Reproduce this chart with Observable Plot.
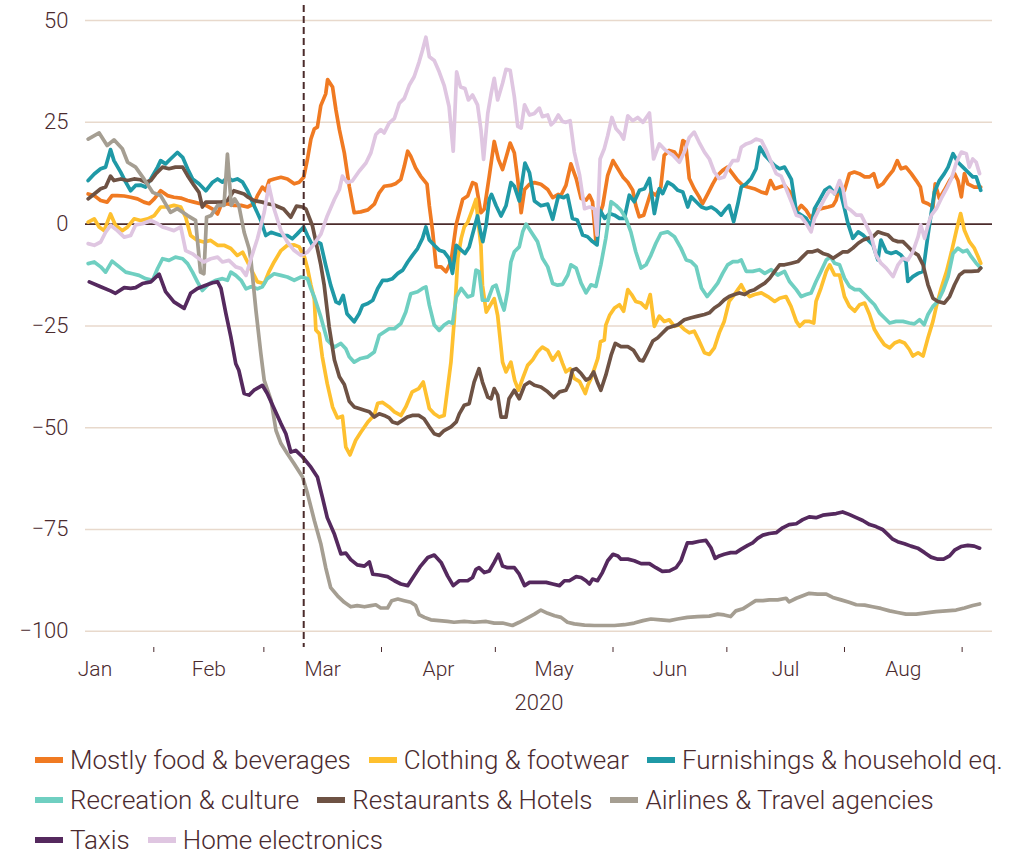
<!DOCTYPE html>
<html>
<head>
<meta charset="utf-8">
<script src="https://cdn.jsdelivr.net/npm/d3@7"></script>
<script src="https://cdn.jsdelivr.net/npm/@observablehq/plot@0.6"></script>
<style>
  html, body { margin: 0; padding: 0; background: #ffffff; }
  #chart { width: 1017px; }
  .legend { padding: 10px 0 0 35px; font-family: Roboto, "Noto Sans", sans-serif; font-weight: 300; font-size: 26px; color: #4b2b2f; }
  .legend .row { display: flex; align-items: center; height: 40px; white-space: nowrap; }
  .legend .item { display: flex; align-items: center; margin-right: 18px; }
  .legend .sw { display: inline-block; width: 28px; height: 6px; margin-right: 7px; }
</style>
</head>
<body>
<div id="chart"></div>
<script>
// ---- categories, colours, tick labels ----
const categories = ["Mostly food & beverages", "Clothing & footwear", "Furnishings & household eq.",
  "Recreation & culture", "Restaurants & Hotels", "Airlines & Travel agencies", "Taxis", "Home electronics"];
const colors = ["#f07a22", "#fec02f", "#1f99a6", "#6fcfc1", "#6e5244", "#a59e92", "#55295e", "#dfc6e1"];
const yTicks = [-100, -75, -50, -25, 0, 25, 50];
const yearLabel = ["2020"];
const lockdownDate = ["2020-03-11T12:00:00Z"];
const monthStarts = ["2020-01-01", "2020-02-01", "2020-03-01", "2020-04-01", "2020-05-01", "2020-06-01", "2020-07-01", "2020-08-01", "2020-09-01"];
const legendRows = [[0, 1, 2], [3, 4, 5], [6, 7]];

// ---- series: [day of 2020 (0 = 1 Jan), index value] ----
const food = [[13.7,7.4],[15.3,7],[17.0,5.8],[18.7,5.4],[20.0,7],[21.4,7],[23.2,6.9],[24.9,6.6],[26.7,6.2],[28.4,5.4],[29.8,5],[31.1,6.2],[32.8,8.2],[34.6,7],[36.3,6.6],[38.1,6.4],[39.9,5.8],[41.6,5.4],[43.3,5],[44.7,4.6],[46.5,3.7],[47.8,2.5],[48.7,4.6],[50.4,5],[52.1,4.6],[54.0,4.6],[55.7,4.2],[57.4,5],[58.3,7],[59.6,9.1],[60.5,8.2],[61.4,10.7],[62.7,11.1],[64.5,11.5],[66.2,11.1],[68.0,9.9],[69.3,10.3],[70.5,11.5],[71.5,16],[72.4,20.9],[73.3,23.4],[74.1,23.8],[75.0,29.1],[76.3,32],[76.8,35.5],[78.1,33.7],[79.0,28],[79.9,23.2],[81.2,17.5],[82.5,9.3],[83.8,2.8],[85.5,3],[87.4,3.5],[89.1,4.9],[90.4,7.7],[91.7,9.3],[93.4,9.5],[94.8,10],[96.1,11],[97.0,14.2],[97.9,17.9],[98.7,16.7],[100.0,13.8],[101.3,11.8],[103.0,9.8],[103.6,4.5],[104.5,-2],[105.4,-10.5],[106.7,-10.5],[108.0,-11.7],[109.3,-9.3],[110.7,0],[112.4,6.1],[113.7,6.9],[115.0,10.2],[115.9,9.8],[117.2,2.8],[118.1,3.7],[119.4,11.8],[120.7,20.3],[121.8,15.9],[122.9,13.4],[123.8,16.3],[124.9,19.9],[126.0,17.5],[126.9,11],[127.8,2.8],[128.7,8.5],[130.0,9.8],[131.3,10.2],[133.0,9.8],[134.8,8.5],[136.1,6.5],[137.6,7.3],[138.3,7.1],[139.6,9.5],[140.9,14.8],[142.3,11.2],[143.6,6.3],[144.9,5.9],[145.8,7.1],[146.6,5.5],[147.5,-4.3],[148.4,2.2],[149.3,4.6],[150.6,12],[152.0,15.6],[153.3,13.6],[154.6,11.6],[155.9,10.3],[157.2,8.3],[158.0,4.6],[158.9,1.8],[160.1,2.2],[161.2,5.5],[162.0,7.9],[163.3,7.1],[164.6,9.1],[165.5,16.9],[166.8,18.1],[168.2,17.7],[169.5,16],[170.4,20.5],[171.1,20.1],[172.1,11.2],[173.4,8.7],[174.7,6.7],[175.6,5],[177.0,7.5],[178.3,9.9],[179.6,12],[180.9,13.2],[182.2,14],[183.5,12.4],[184.9,10.7],[186.2,9.5],[187.5,9.1],[189.2,8.7],[191.0,7.9],[192.4,7.5],[193.5,10.7],[194.6,8.7],[195.9,9.1],[197.2,9.5],[199.0,7.5],[200.3,3],[201.6,4.6],[202.9,3.4],[204.2,1.4],[205.5,3.4],[206.8,3.8],[208.7,4.2],[210.0,4.6],[210.8,5.9],[211.7,9.5],[213.0,8.3],[214.3,12.4],[215.6,12.8],[216.9,12.4],[218.3,11.6],[219.6,11.6],[220.7,12.4],[221.8,9.1],[223.1,9.9],[224.4,11.6],[225.8,13.2],[226.9,15.6],[227.9,13.6],[229.2,14],[230.6,12.4],[231.9,10.7],[233.0,9.1],[233.7,5.5],[235.0,5],[236.3,4.2],[236.9,9.9],[238.0,6.3],[239.3,8.3],[240.7,10.7],[242.0,12.4],[242.9,10.7],[243.8,6.7],[244.6,12.4],[245.5,9.9],[247.2,9.1],[248.9,9.1]];

const clothing = [[13.7,0.5],[15.3,1.3],[16.6,-0.7],[17.9,-1.6],[19.6,2.5],[20.9,-0.3],[22.7,-1.6],[24.1,-0.7],[25.8,1.3],[27.5,0.9],[29.4,1.3],[31.1,2.1],[32.8,4.2],[34.6,4.2],[36.3,4.6],[38.1,4.2],[39.4,1.7],[40.7,-2.8],[42.5,-4],[44.2,-4.4],[46.0,-4],[47.8,-5.2],[49.5,-5.2],[51.3,-6],[53.0,-7.7],[54.4,-6.9],[55.7,-9.3],[57.0,-11.8],[58.3,-14.2],[60.1,-14.6],[61.3,-11.8],[62.7,-9.3],[64.5,-6.5],[66.2,-5.2],[68.0,-5.1],[69.3,-5.6],[70.7,-8.1],[71.5,-10.9],[72.4,-15],[73.3,-18.5],[73.7,-26],[74.6,-26.9],[75.4,-32.6],[76.7,-39.2],[78.1,-44.9],[79.4,-47.6],[80.7,-47.2],[81.6,-54.8],[82.7,-56.7],[84.2,-53.1],[85.5,-51.2],[87.4,-48.6],[89.1,-46.9],[90.0,-44],[91.3,-43.8],[93.0,-44.9],[94.4,-46.1],[96.1,-47],[97.4,-44.9],[99.1,-41.2],[100.8,-40.4],[102.0,-38.8],[103.6,-45.3],[104.9,-46.6],[106.2,-47.4],[107.5,-47],[109.3,-33.9],[110.2,-23.2],[111.1,-8.4],[112.0,-3.5],[112.8,-0.7],[113.7,0.4],[115.0,3.7],[115.9,6.1],[116.4,1.2],[117.2,-5.3],[117.6,-15],[118.6,-21.6],[119.4,-20.3],[120.7,-18.3],[121.6,-22.4],[122.9,-33.9],[123.8,-36.3],[125.1,-33.9],[126.1,-38.4],[127.1,-40.8],[128.2,-37.9],[129.5,-34.7],[130.8,-33.4],[132.1,-31.4],[133.4,-30.2],[134.8,-31],[136.1,-33.4],[137.6,-31.4],[138.7,-34.2],[139.6,-36.3],[140.7,-35.5],[141.8,-37.9],[143.2,-38.7],[144.1,-40.4],[144.7,-41.6],[145.4,-39.5],[146.2,-37.9],[147.1,-35.5],[148.0,-33],[148.7,-28.9],[149.7,-28.5],[150.1,-24.8],[151.1,-22.4],[152.4,-20.6],[153.7,-19.8],[154.8,-21.4],[155.9,-16.1],[156.9,-17.3],[158.0,-19],[159.4,-19.4],[160.7,-20.6],[161.8,-17.3],[162.9,-25.1],[164.2,-22.6],[165.5,-23.9],[166.8,-23.5],[168.2,-25.1],[169.5,-24.7],[170.8,-25.9],[172.1,-26.7],[173.4,-26.3],[174.7,-28.7],[176.1,-31.6],[177.4,-32],[178.7,-30.4],[180.0,-26.7],[181.3,-23.9],[182.6,-19],[184.0,-17.3],[184.9,-16.1],[185.8,-14.9],[186.7,-16.5],[188.0,-17.8],[189.3,-17.3],[191.1,-16.9],[192.8,-17.8],[194.6,-19],[195.9,-18.2],[197.6,-17.8],[198.9,-20.2],[200.3,-23.9],[201.2,-25.1],[202.5,-23.9],[203.8,-23.9],[204.9,-24.3],[205.5,-19],[206.8,-15.7],[208.2,-11.6],[209.1,-10],[210.4,-12.5],[211.7,-12.5],[213.0,-17.8],[214.3,-20.2],[215.7,-21.4],[217.0,-19.8],[218.3,-19.4],[219.6,-22.2],[220.9,-25.9],[222.2,-27.9],[223.5,-29.6],[224.9,-30.4],[226.2,-29.2],[227.5,-28.7],[228.8,-29.2],[230.1,-30.8],[231.0,-32.4],[232.4,-31.6],[233.7,-32.4],[235.0,-27.9],[236.3,-23.9],[237.2,-20.2],[238.5,-15.7],[239.9,-11.6],[241.2,-6.8],[242.5,-1.5],[243.6,2.6],[244.6,-1.5],[245.9,-4.3],[247.2,-5.9],[248.2,-8],[248.9,-9.6]];

const furnishings = [[13.7,10.7],[15.3,12.3],[17.0,13.6],[18.3,14],[19.6,18.3],[20.5,15.6],[22.3,12.7],[23.6,10.3],[24.9,8.2],[26.2,9.5],[27.5,9.6],[28.8,9.1],[30.2,11.1],[32.0,14],[32.8,15.6],[34.1,14.8],[35.4,16],[37.2,17.6],[38.6,16.4],[39.9,13.6],[41.2,11.1],[42.9,9.9],[44.7,8.2],[46.5,10.3],[47.8,11.1],[49.1,10.3],[50.4,11.5],[51.7,10.7],[53.0,11.1],[54.4,10.3],[55.7,8.2],[57.4,4.6],[59.2,0.9],[60.5,-2.8],[61.9,-2],[63.2,-2.4],[64.5,-2.8],[66.2,-2.8],[67.5,-3.6],[68.8,-2.4],[70.5,-0.7],[71.5,-2.8],[72.8,-5.2],[74.1,-4.4],[75.0,-4.8],[76.3,-10.1],[77.6,-15],[79.0,-19.1],[79.9,-19.5],[80.9,-17.5],[81.9,-22],[83.8,-24],[85.1,-22],[86.0,-20],[87.4,-19.5],[88.7,-18.7],[90.0,-15.8],[91.3,-13.8],[92.6,-13.8],[93.9,-13.4],[95.3,-12.1],[96.6,-11.3],[97.9,-9.3],[99.2,-7.6],[100.5,-6],[101.8,-3.5],[102.7,-0.7],[103.6,-3.9],[104.9,-5.2],[106.2,-6.4],[107.5,-6.8],[108.8,-8.4],[109.7,-12.1],[110.7,-5.2],[112.0,-6.4],[113.0,-7.2],[114.1,-5.6],[115.4,-1.1],[116.3,2],[117.1,-2],[117.7,-4.3],[118.6,0],[119.4,6.1],[120.0,7.3],[121.2,4.5],[122.5,2],[123.8,4.5],[125.1,10.2],[126.0,9.3],[127.3,5.7],[128.8,15],[130.0,12.6],[131.3,5.7],[133.0,4.5],[134.8,4.9],[136.1,1.2],[137.6,6.9],[139.0,6.5],[140.0,7.1],[141.3,1.4],[142.6,1],[144.0,-2.7],[145.3,-3.1],[146.6,-4.3],[147.8,-5.1],[148.6,3.4],[149.8,1.4],[151.1,2.6],[152.4,2.2],[153.7,1.4],[155.0,1.4],[156.3,7.1],[157.6,5.5],[159.0,8.3],[160.3,8.7],[161.6,11.2],[162.9,2.6],[164.2,8.7],[165.1,7.5],[166.4,10.3],[167.8,9.5],[169.1,8.3],[170.4,7.9],[171.7,4.2],[172.6,6.7],[173.9,5.5],[175.3,4.2],[176.6,3.8],[177.9,4.2],[179.2,3.4],[180.5,2.2],[181.8,3.8],[182.6,4.6],[183.8,0.6],[184.9,5],[185.8,9.1],[187.1,9.9],[188.4,11.2],[189.7,13.6],[190.7,18.9],[192.0,16.9],[193.3,15.6],[194.6,14.4],[195.9,13.6],[197.2,14],[199.0,11],[200.3,3],[201.6,2.2],[202.9,1.4],[204.2,-0.7],[205.1,3.8],[206.4,5.9],[207.8,8.3],[209.1,9.1],[210.4,7.5],[211.7,8.7],[213.0,3.8],[213.9,0.2],[215.2,-3.5],[216.6,-1.9],[217.9,-2.7],[219.2,-3.9],[220.5,-5.1],[221.8,-8.8],[222.6,-3.9],[224.0,-6.8],[225.3,-7.2],[226.6,-6.8],[227.9,-7.6],[229.2,-9.2],[229.7,-14.1],[231.0,-12.9],[232.4,-12.1],[233.7,-11.6],[235.0,-2.7],[235.9,3],[236.7,7.9],[238.0,10.7],[239.3,12.4],[240.3,14],[241.6,17.3],[242.9,15.2],[244.2,14],[245.5,12.8],[246.8,11.6],[247.7,11.6],[248.9,8.3]];

const recreation = [[13.7,-9.7],[15.3,-9.3],[17.0,-10.5],[18.3,-11.8],[20.0,-9.1],[21.9,-10.5],[23.6,-11.8],[25.4,-12.2],[27.1,-12.6],[28.8,-13.4],[30.7,-13.8],[32.0,-10.9],[33.3,-8.5],[35.0,-8.9],[36.7,-8.1],[38.6,-8.5],[39.9,-9.7],[41.2,-11.8],[42.5,-14.2],[43.8,-16.3],[45.6,-14.6],[47.4,-13.8],[49.1,-13.4],[50.4,-13.8],[51.3,-11.8],[52.6,-12.6],[54.0,-13.8],[55.3,-15.9],[56.6,-15.4],[58.3,-15.9],[59.6,-15.4],[60.9,-13.4],[62.7,-12.2],[64.5,-12.6],[66.2,-13],[68.0,-13.8],[69.8,-13],[71.5,-13.4],[72.4,-15.9],[73.3,-17.9],[75.0,-22.8],[76.7,-28.5],[78.6,-30.2],[80.3,-29.3],[81.6,-30.6],[82.5,-32.6],[83.8,-33.9],[85.5,-33],[87.4,-32.6],[89.1,-31.4],[90.4,-27.3],[91.7,-26.5],[93.0,-25.7],[94.4,-25.7],[96.1,-24.4],[97.4,-21.6],[98.7,-17.1],[100.5,-16.6],[101.8,-15.8],[102.7,-15.4],[103.6,-19.9],[104.9,-24.8],[106.2,-26.1],[107.5,-24.8],[108.8,-24],[109.7,-24.4],[110.7,-17.9],[112.0,-15.8],[113.7,-17.9],[115.0,-17.5],[115.9,-11.3],[116.7,-11.7],[117.6,-18.7],[119.0,-18.7],[120.3,-15.4],[121.2,-15],[122.5,-19.1],[123.3,-21.1],[124.2,-16.6],[125.1,-9.3],[126.0,-6.8],[127.3,-5.6],[128.2,-1.9],[129.1,0],[130.4,-1.9],[132.1,-4.3],[133.4,-8.4],[134.8,-10.5],[136.1,-14.6],[137.4,-15],[138.7,-14.8],[140.1,-12.5],[140.9,-10],[142.3,-10.8],[143.6,-14.5],[144.9,-16.9],[146.2,-14.9],[147.5,-15.3],[148.8,-10],[150.1,-3.5],[151.5,5.5],[152.8,4.6],[154.1,3.4],[155.4,1.4],[156.7,-1.9],[158.0,-6.8],[159.4,-10.8],[160.7,-10],[162.0,-7.6],[163.3,-4.7],[164.6,-2.3],[166.4,-1.9],[168.2,-3.1],[169.9,-5.9],[171.3,-8.8],[172.6,-9.2],[173.9,-10.4],[175.3,-15.7],[176.8,-17.8],[178.3,-16.1],[179.6,-14.5],[180.9,-12.1],[182.2,-10],[183.6,-9.2],[184.9,-9.2],[185.8,-8.8],[187.1,-11.6],[188.8,-11.6],[190.6,-11.2],[192.0,-12.1],[193.7,-11.2],[195.4,-12.5],[197.2,-11.6],[198.5,-14.1],[200.3,-16.1],[201.6,-17.8],[202.9,-17.3],[204.2,-16.9],[205.5,-14.1],[206.8,-11.6],[208.2,-8.8],[209.3,-8],[210.4,-9.6],[211.7,-10],[213.0,-13.3],[214.3,-15.3],[215.7,-16.1],[217.0,-16.1],[218.3,-17.3],[219.6,-18.6],[220.9,-19.8],[222.2,-21.8],[223.5,-23],[224.9,-24.3],[226.6,-23.9],[228.4,-23.9],[230.1,-24.3],[231.4,-24.5],[232.8,-23.5],[234.0,-24.7],[235.0,-22.2],[236.3,-20.2],[237.6,-19],[238.9,-16.5],[240.3,-12.9],[241.6,-7.2],[242.9,-5.9],[244.2,-6.8],[245.3,-6.4],[246.4,-8],[247.7,-9.6],[248.9,-10.8]];

const restaurants = [[13.7,6.2],[15.3,7.4],[17.0,8.7],[18.3,9.1],[19.6,11.8],[20.5,10.7],[22.3,11.1],[24.1,10.7],[25.8,11.1],[27.5,10.9],[28.8,10.3],[30.2,10.7],[31.5,12.3],[33.3,14],[35.0,13.6],[36.7,14],[38.6,14],[39.9,11.9],[41.6,9.5],[42.9,7.8],[43.8,4.2],[44.7,5.4],[46.5,5.4],[48.7,5.4],[50.4,5.8],[52.1,8.2],[54.8,7.4],[55.7,6.7],[57.4,5.8],[59.6,5.4],[60.9,5],[62.7,4.7],[65.2,3.7],[67.1,1.7],[68.6,4.4],[70.2,4.2],[71.1,3.7],[72.8,-0.4],[74.1,-6],[75.0,-10],[75.9,-15],[77.2,-25.2],[78.6,-33.4],[79.9,-37.5],[81.2,-39.4],[82.5,-43.5],[83.8,-44.9],[85.1,-45.3],[86.5,-45.7],[87.8,-46.1],[89.1,-47.4],[90.4,-46.6],[91.7,-47],[93.0,-47.6],[93.9,-48.6],[95.2,-49],[96.5,-48.2],[97.8,-47.4],[99.1,-47],[100.8,-47],[102.2,-47.8],[103.6,-49.8],[104.9,-51.5],[106.2,-51.9],[107.5,-50.7],[109.3,-49.8],[110.7,-48.6],[111.5,-46.6],[112.8,-44.5],[114.1,-44.1],[115.4,-38.8],[116.7,-35.5],[117.6,-38.8],[119.0,-42.5],[119.9,-42.9],[120.7,-40.4],[121.6,-42],[122.5,-47.4],[123.8,-47.4],[124.6,-42.9],[126.0,-40.8],[127.3,-42.9],[128.7,-39.6],[130.0,-38.8],[131.3,-39.6],[133.0,-40],[134.8,-41.2],[136.4,-42.6],[137.9,-41.2],[139.6,-40.8],[140.5,-39.1],[141.3,-35.9],[142.3,-35.5],[143.6,-36.7],[144.9,-38.3],[145.8,-37.9],[146.9,-36.3],[148.0,-39.1],[148.8,-40.8],[150.1,-37.1],[151.5,-32.2],[152.6,-29.3],[154.1,-30.1],[155.9,-30.1],[157.4,-31],[159.0,-33.4],[159.9,-33.6],[161.2,-31.2],[162.5,-28.7],[163.8,-27.9],[165.1,-26.7],[166.4,-25.5],[167.8,-25.1],[169.1,-24.7],[170.8,-23.5],[172.6,-23],[174.3,-22.6],[176.1,-22.2],[177.4,-21.8],[178.7,-20.6],[180.0,-19.8],[181.3,-18.6],[182.6,-17.8],[184.0,-17.3],[185.3,-16.9],[186.7,-17.3],[188.0,-16.5],[189.3,-16.1],[190.6,-15.3],[192.0,-14.5],[193.3,-13.3],[194.6,-11.6],[195.9,-10],[197.2,-10],[199.0,-9.6],[200.7,-9.2],[202.0,-8],[203.3,-6.8],[204.6,-6.8],[205.9,-6.4],[207.3,-7.2],[208.7,-7.6],[210.0,-8.4],[211.3,-7.6],[212.6,-6.8],[213.9,-6.8],[215.2,-5.9],[216.6,-4.7],[217.9,-3.9],[219.2,-3.5],[220.5,-3.1],[221.8,-1.9],[223.1,-2.3],[224.5,-2.7],[225.8,-3.9],[227.1,-4.3],[228.4,-4.3],[229.7,-5.5],[231.0,-6.8],[232.4,-7.6],[233.7,-10],[235.0,-14.9],[236.3,-18.2],[237.6,-19],[239.3,-19.4],[240.7,-17.8],[242.0,-14.9],[243.3,-12.5],[244.6,-11.6],[246.4,-11.6],[248.2,-11.5],[248.9,-10.8]];

const airlines = [[13.7,20.9],[16.6,22.4],[18.7,19.3],[20.5,20.7],[22.7,18.5],[24.1,15.2],[26.2,14],[28.4,11.1],[30.7,7.8],[32.8,7],[35.4,2.9],[37.2,3.8],[39.9,2.1],[42.0,0.9],[43.3,-11.8],[44.2,-12.2],[44.9,1.7],[46.1,2.1],[47.8,4.6],[49.5,4.6],[50.4,17.2],[51.4,4.6],[52.3,6.2],[53.4,4.6],[54.8,-2],[56.1,-6],[56.6,-8.9],[57.9,-21.1],[59.2,-31.8],[60.1,-38.4],[61.9,-43.3],[63.2,-50.7],[64.5,-53.9],[66.2,-56.4],[68.0,-58.9],[70.2,-62.1],[71.5,-66.2],[73.3,-72.8],[75.0,-78.5],[76.3,-84.4],[77.6,-89.3],[79.4,-91.3],[81.2,-92.9],[82.9,-94],[84.6,-93.7],[86.5,-94],[88.2,-93.7],[89.5,-93.5],[90.8,-94.3],[92.6,-94.3],[93.7,-92.5],[95.3,-92.1],[97.0,-92.5],[98.7,-92.9],[100.0,-93.7],[100.9,-95.9],[102.3,-96.6],[104.0,-97.2],[106.2,-97.4],[108.4,-97.6],[110.1,-97.8],[112.8,-97.6],[115.4,-97.8],[118.6,-97.6],[120.7,-98],[122.9,-98],[125.5,-98.6],[127.3,-97.8],[129.5,-96.7],[131.3,-95.8],[133.0,-94.8],[134.8,-95.6],[136.6,-96.2],[138.3,-96.6],[140.0,-97.8],[141.8,-98.2],[144.5,-98.5],[147.1,-98.6],[149.7,-98.6],[152.4,-98.6],[155.0,-98.4],[157.6,-98],[159.9,-97.4],[162.0,-97],[164.6,-97.2],[166.9,-97.4],[169.0,-97],[171.6,-96.6],[174.3,-96.4],[177.4,-96.3],[179.6,-95.8],[181.3,-96],[183.0,-96.4],[184.4,-95],[186.2,-94.5],[187.9,-93.5],[189.6,-92.5],[191.5,-92.5],[193.2,-92.3],[195.4,-92.3],[197.6,-91.9],[198.4,-92.8],[200.3,-91.9],[202.0,-91.3],[203.7,-90.7],[205.9,-90.9],[208.2,-90.9],[209.9,-91.7],[212.1,-92.3],[214.2,-92.9],[216.1,-93.5],[218.3,-93.6],[220.4,-94],[222.6,-94.4],[224.9,-95],[227.0,-95.4],[229.2,-95.8],[231.9,-95.8],[234.5,-95.5],[237.1,-95.2],[239.8,-95],[242.4,-94.8],[244.6,-94.3],[246.8,-93.7],[248.6,-93.3]];

const taxis = [[14.0,-14.2],[17.0,-15.4],[19.6,-16.4],[20.9,-17],[23.2,-15.6],[24.9,-15.8],[26.2,-15.6],[28.0,-14.6],[30.2,-14.2],[32.4,-12.3],[34.1,-16.6],[36.3,-19.1],[39.0,-20.7],[40.7,-17],[42.5,-15.8],[44.7,-15],[46.5,-14.4],[47.8,-14.2],[48.7,-15.8],[50.0,-22],[51.3,-27.7],[52.6,-34.3],[53.4,-35.9],[54.8,-41.6],[56.1,-42],[57.4,-40.8],[59.6,-39.6],[60.9,-41.6],[62.7,-45.3],[64.5,-49],[65.8,-51.5],[67.1,-56],[68.4,-55.6],[70.2,-57.2],[72.4,-59.7],[74.1,-62.1],[75.4,-67],[76.7,-72.1],[78.6,-76.2],[80.3,-81],[81.6,-80.8],[82.9,-82.4],[84.6,-83.7],[86.5,-84],[87.8,-83],[88.7,-86],[90.4,-86.2],[92.6,-86.6],[94.4,-87.6],[96.1,-88.4],[97.9,-88.8],[99.6,-86.4],[101.3,-84],[103.2,-81.9],[104.9,-81.3],[106.7,-83.1],[108.4,-86.4],[109.9,-88.8],[111.5,-87.6],[113.7,-87.6],[115.0,-86.8],[115.9,-84.8],[116.7,-84.4],[118.1,-85.6],[119.4,-85.2],[120.7,-83.1],[121.8,-81.1],[122.9,-84],[124.2,-84.4],[126.0,-84.4],[127.3,-86],[128.7,-88.8],[130.0,-88],[132.1,-88],[134.4,-88],[136.1,-88.4],[137.9,-88.8],[139.2,-87.6],[140.5,-87.6],[142.3,-86.6],[143.6,-86.8],[144.9,-87.6],[145.8,-88.4],[146.6,-87.2],[147.9,-87.6],[149.2,-85.6],[150.6,-82.7],[152.0,-81.1],[153.3,-81.5],[154.1,-82.3],[155.9,-82.3],[157.6,-82.7],[159.4,-83.4],[161.6,-83.4],[163.3,-84.4],[165.0,-85.3],[166.9,-85.2],[168.6,-84.4],[169.9,-82.7],[170.8,-80.3],[171.6,-78.3],[172.9,-78.3],[174.8,-77.9],[176.5,-77.7],[177.8,-79.5],[178.9,-82.1],[180.0,-81.5],[181.3,-81.1],[183.0,-80.7],[184.4,-80.7],[185.7,-79.9],[187.5,-78.9],[188.8,-78.3],[190.1,-77.2],[191.5,-76.4],[193.2,-76],[195.0,-75.8],[196.7,-74.6],[198.4,-73.8],[200.3,-73.6],[202.0,-72.6],[203.7,-71.9],[205.5,-72.1],[207.3,-71.5],[209.0,-71.3],[210.8,-71.1],[212.5,-70.7],[214.2,-71.3],[216.1,-72.1],[217.8,-72.8],[219.6,-73.8],[221.3,-74.3],[223.0,-75],[224.4,-76.2],[225.7,-77.4],[227.0,-78],[228.8,-78.5],[230.5,-79.1],[232.3,-79.6],[234.1,-80.7],[235.8,-81.8],[237.6,-82.3],[239.1,-82.3],[240.7,-81.5],[242.0,-80.1],[243.7,-79.2],[245.5,-78.9],[247.2,-79.1],[248.6,-79.6]];

const electronics = [[13.7,-4.8],[15.3,-5.2],[17.0,-4.4],[18.3,-2],[19.6,-0.3],[21.4,-1.6],[23.2,-3.2],[24.9,-2.8],[26.2,-0.2],[28.0,0.1],[30.2,0.9],[32.0,0.1],[33.3,-0.7],[34.6,-1.1],[36.3,-1.6],[38.1,-0.7],[39.4,-6.5],[41.2,-7.3],[42.9,-8.5],[44.2,-9.3],[46.0,-8.5],[47.8,-8.1],[49.1,-9.3],[50.8,-8.9],[52.6,-10.5],[54.0,-10.9],[55.3,-12.6],[56.6,-8.5],[58.3,-3.6],[60.1,2.9],[61.3,9.5],[62.7,3.7],[64.5,-1.6],[66.2,-4.4],[68.0,-6.5],[69.8,-7.7],[71.5,-6.9],[73.3,-4.8],[75.0,-2.5],[76.7,2],[78.6,6.1],[79.9,8.5],[80.7,11.8],[82.0,10.2],[83.3,10.6],[85.1,13],[86.9,15],[88.2,17.5],[89.5,22],[90.8,23.2],[91.7,22.4],[93.0,24.8],[94.4,26],[95.7,29.7],[97.0,30.9],[98.3,34.1],[99.6,36.2],[100.9,39.8],[101.8,42.7],[102.7,45.9],[103.6,41.1],[104.9,40.2],[106.2,37.4],[107.5,34.1],[108.8,28.9],[109.9,17.9],[110.8,37.4],[111.8,33.7],[113.0,33.3],[113.9,30.5],[115.0,31.7],[116.3,29.3],[117.2,23.2],[117.9,15.9],[119.0,27.2],[119.9,32.1],[120.7,35.8],[121.6,30.5],[122.9,34.6],[123.8,38],[124.9,37.8],[126.0,31.3],[126.9,24],[127.8,23.6],[128.7,29.3],[130.0,26.8],[131.3,27.2],[132.6,28.5],[133.4,26.4],[134.8,26.8],[135.7,24.4],[136.6,25.2],[137.6,26.8],[138.7,25.2],[139.6,25],[140.7,25.4],[141.8,17.7],[143.2,12],[144.5,3.8],[145.8,4.2],[147.1,3.8],[147.8,-2.7],[148.6,16],[149.7,18.5],[150.6,21.7],[151.7,26.2],[152.8,23.4],[154.0,22.2],[154.8,20.9],[155.9,26.6],[157.2,25.4],[158.5,26.2],[159.9,25],[161.6,27.3],[162.7,16],[164.2,19.7],[165.9,18.1],[167.8,16.9],[169.5,15.2],[170.8,17.7],[172.1,21.3],[173.4,22.6],[174.7,20.1],[176.1,17.7],[177.4,16],[178.7,12.8],[180.0,11.2],[181.3,11.6],[182.2,13.6],[183.6,15.6],[184.9,15.6],[185.8,18.9],[187.1,19.7],[188.4,20.1],[189.7,20.9],[191.1,20.5],[192.4,18.1],[193.7,15.2],[195.0,12.4],[196.3,11.8],[197.6,8.7],[199.0,5.5],[200.3,2.2],[201.6,1.8],[202.9,0.2],[204.2,-1.9],[205.1,1.4],[206.4,3.8],[207.8,6.3],[209.1,8.3],[210.4,7.5],[211.7,10.7],[212.6,8.7],[213.4,4.2],[214.7,3.4],[216.1,2.2],[217.4,2.2],[218.7,-0.2],[220.0,-2.7],[221.3,-7.6],[222.6,-9.6],[224.0,-10.8],[225.8,-12.9],[227.1,-10],[228.4,-8.4],[229.7,-8.8],[231.0,-6.8],[232.4,-3.1],[233.1,-0.2],[234.1,-3.5],[235.0,-0.2],[235.9,2.2],[237.2,3.8],[238.5,6.3],[239.9,8.7],[241.2,11.2],[242.5,15.2],[243.8,17.7],[245.1,17.3],[245.9,14],[246.8,16],[247.7,15.2],[248.6,12.4]];

const seriesList = [food, clothing, furnishings, recreation, restaurants, airlines, taxis, electronics];

// ---- build table ----
const DAY0 = Date.UTC(2020, 0, 1);
const toDate = d => new Date(DAY0 + d * 864e5);
const rows = [];
seriesList.forEach((s, i) => s.forEach(([d, v]) => rows.push({cat: categories[i], date: toDate(d), value: v})));

const monthTicks = monthStarts.map(s => new Date(s + "T00:00:00Z"));
const monthMids = monthTicks.slice(0, -1).map((m, i) => new Date((+m + +monthTicks[i + 1]) / 2));
const textColor = "#4b2b2f";

const chart = Plot.plot({
  width: 1017,
  height: 730,
  marginLeft: 85,
  marginRight: 25,
  marginTop: 5,
  marginBottom: 83,
  style: {fontFamily: "Roboto, 'Noto Sans', sans-serif", fontWeight: 300, color: textColor, background: "#ffffff", overflow: "visible"},
  x: {type: "utc", domain: [toDate(13), toDate(252)], label: null},
  y: {domain: [-104, 53.7], label: null},
  color: {domain: categories, range: colors},
  marks: [
    Plot.ruleY(yTicks.filter(t => t !== 0), {stroke: "#e8d9cc", strokeWidth: 1.5}),
    Plot.ruleY([0], {stroke: "#4b2b2b", strokeWidth: 1.6}),
    Plot.axisY({ticks: yTicks, tickSize: 0, tickPadding: 17, tickFormat: d => d < 0 ? "\u2212" + Math.abs(d) : String(d), fontSize: 22, label: null}),
    Plot.axisX({ticks: monthTicks.filter(t => t > toDate(13)), tickSize: 5, tickFormat: () => "", stroke: textColor, label: null}),
    Plot.axisX({ticks: monthMids, tickSize: 0, tickPadding: 14, tickFormat: d3.utcFormat("%b"), fontSize: 21, label: null}),
    Plot.text(yearLabel, {frameAnchor: "bottom", dy: 62, fontSize: 22, fill: textColor}),
    Plot.lineY(rows, {x: "date", y: "value", z: "cat", stroke: "cat", strokeWidth: 3.7, strokeLinejoin: "round"}),
    Plot.ruleX(lockdownDate.map(s => new Date(s)), {stroke: "#4b2b2b", strokeWidth: 2, strokeDasharray: "7,4"})
  ]
});
document.getElementById("chart").appendChild(chart);

// ---- legend ----
const legend = document.createElement("div");
legend.className = "legend";
legendRows.forEach(r => {
  const row = document.createElement("div");
  row.className = "row";
  r.forEach(i => {
    const item = document.createElement("div");
    item.className = "item";
    const sw = document.createElement("span");
    sw.className = "sw";
    sw.style.background = colors[i];
    const label = document.createElement("span");
    label.textContent = categories[i];
    item.appendChild(sw);
    item.appendChild(label);
    row.appendChild(item);
  });
  legend.appendChild(row);
});
document.getElementById("chart").appendChild(legend);
</script>
</body>
</html>
